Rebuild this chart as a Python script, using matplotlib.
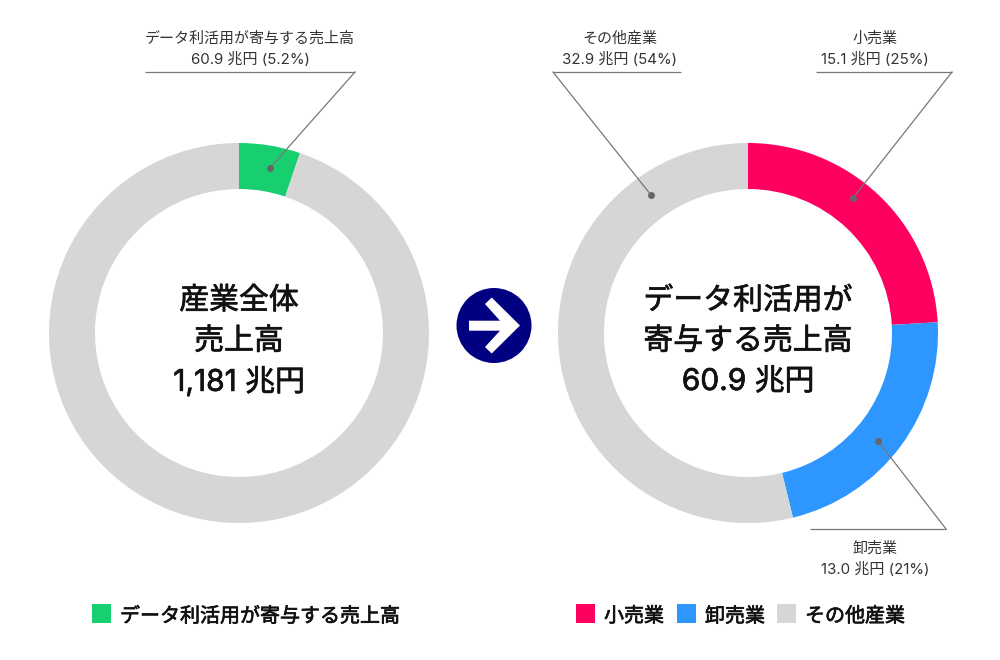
import matplotlib
matplotlib.use('Agg')
from matplotlib import pyplot as plt
from matplotlib import patheffects as pe
from matplotlib.patches import Circle, Polygon, Rectangle

plt.rcParams['font.family'] = ['Inter', 'Noto Sans CJK JP', 'DejaVu Sans']

left_values = [5.2, 94.8]
left_colors = ['#18cf6f', '#d6d6d6']
right_values = [24.1, 22.1, 53.8]
right_colors = ['#ff0060', '#2d96ff', '#d6d6d6']

left_center = ['産業全体', '売上高', '1,181 兆円']
right_center = ['データ利活用が', '寄与する売上高', '60.9 兆円']

callout_text = [
    'データ利活用が寄与する売上高\n60.9 兆円 (5.2%)',
    'その他産業\n32.9 兆円 (54%)',
    '小売業\n15.1 兆円 (25%)',
    '卸売業\n13.0 兆円 (21%)',
]
legend_left = ['データ利活用が寄与する売上高']
legend_right = ['小売業', '卸売業', 'その他産業']

W, H = 1000, 660
fig = plt.figure(figsize=(W / 100, H / 100), dpi=100)


def ring(x, y, size, values, colors):
    ax = fig.add_axes([x / W, 1 - (y + size) / H, size / W, size / H])
    ax.pie(values, colors=colors, startangle=90, counterclock=False, radius=1,
           wedgeprops={'width': 46 / 190, 'linewidth': 0})
    ax.set_xlim(-1, 1)
    ax.set_ylim(-1, 1)
    ax.set_aspect('equal')
    ax.axis('off')


ring(49, 143, 380, left_values, left_colors)
ring(558, 143, 380, right_values, right_colors)

# overlay in pixel coordinates for labels and leader lines
top = fig.add_axes([0, 0, 1, 1], facecolor='none')
top.set_xlim(0, W)
top.set_ylim(H, 0)
top.axis('off')

heavy = [pe.withStroke(linewidth=0.5, foreground='#111111')]

for i, s in enumerate(left_center):
    top.text(239, 298 + 40.5 * i, s, ha='center', va='center_baseline', fontsize=21.5,
             color='#111111', path_effects=heavy)
for i, s in enumerate(right_center):
    top.text(748, 298 + 40.5 * i, s, ha='center', va='center_baseline', fontsize=21.5,
             color='#111111', path_effects=heavy)


def callout(text, tx, ty, x0, x1, ly, elbow, dot):
    # two lines placed on their own so the spacing stays fixed
    for i, s in enumerate(text.split('\n')):
        top.text(tx, ty + 20.5 * i, s, ha='center', va='center_baseline', fontsize=10.8,
                 color='#333333')
    top.plot([x0, x1], [ly, ly], color='#777777', lw=0.9, solid_capstyle='butt')
    top.plot([elbow, dot[0]], [ly, dot[1]], color='#777777', lw=0.9)
    top.plot([dot[0]], [dot[1]], 'o', ms=5, color='#666666', mew=0)


callout(callout_text[0], 250, 37, 145, 355, 72, 355, (270, 168))
callout(callout_text[1], 620, 37, 553, 681, 72, 553, (651, 195))
callout(callout_text[2], 875, 37, 816, 952, 72, 952, (853, 198))
callout(callout_text[3], 875, 547, 810, 946, 529, 946, (878, 441))

# arrow between the rings
top.add_patch(Circle((494, 325.5), 37.5, fc='#000080', ec='none'))
top.add_patch(Polygon([(469, 320.7), (500, 320.7), (485, 304), (491.7, 297.5), (520, 325.5),
                       (491.7, 353.5), (485, 347), (500, 330.7), (469, 330.7)],
                      closed=True, fc='white', ec='none'))


def legend(labels, colors, xs):
    for s, c, sx in zip(labels, colors, xs):
        top.add_patch(Rectangle((sx, 604), 19, 19, fc=c, ec='none'))
        top.text(sx + 28, 614.5, s, ha='left', va='center_baseline', fontsize=14.4,
                 color='#111111', path_effects=heavy)


legend(legend_left, left_colors, [92])
legend(legend_right, right_colors, [576, 677, 777])

fig.savefig('out.png', dpi=100, facecolor='white')
